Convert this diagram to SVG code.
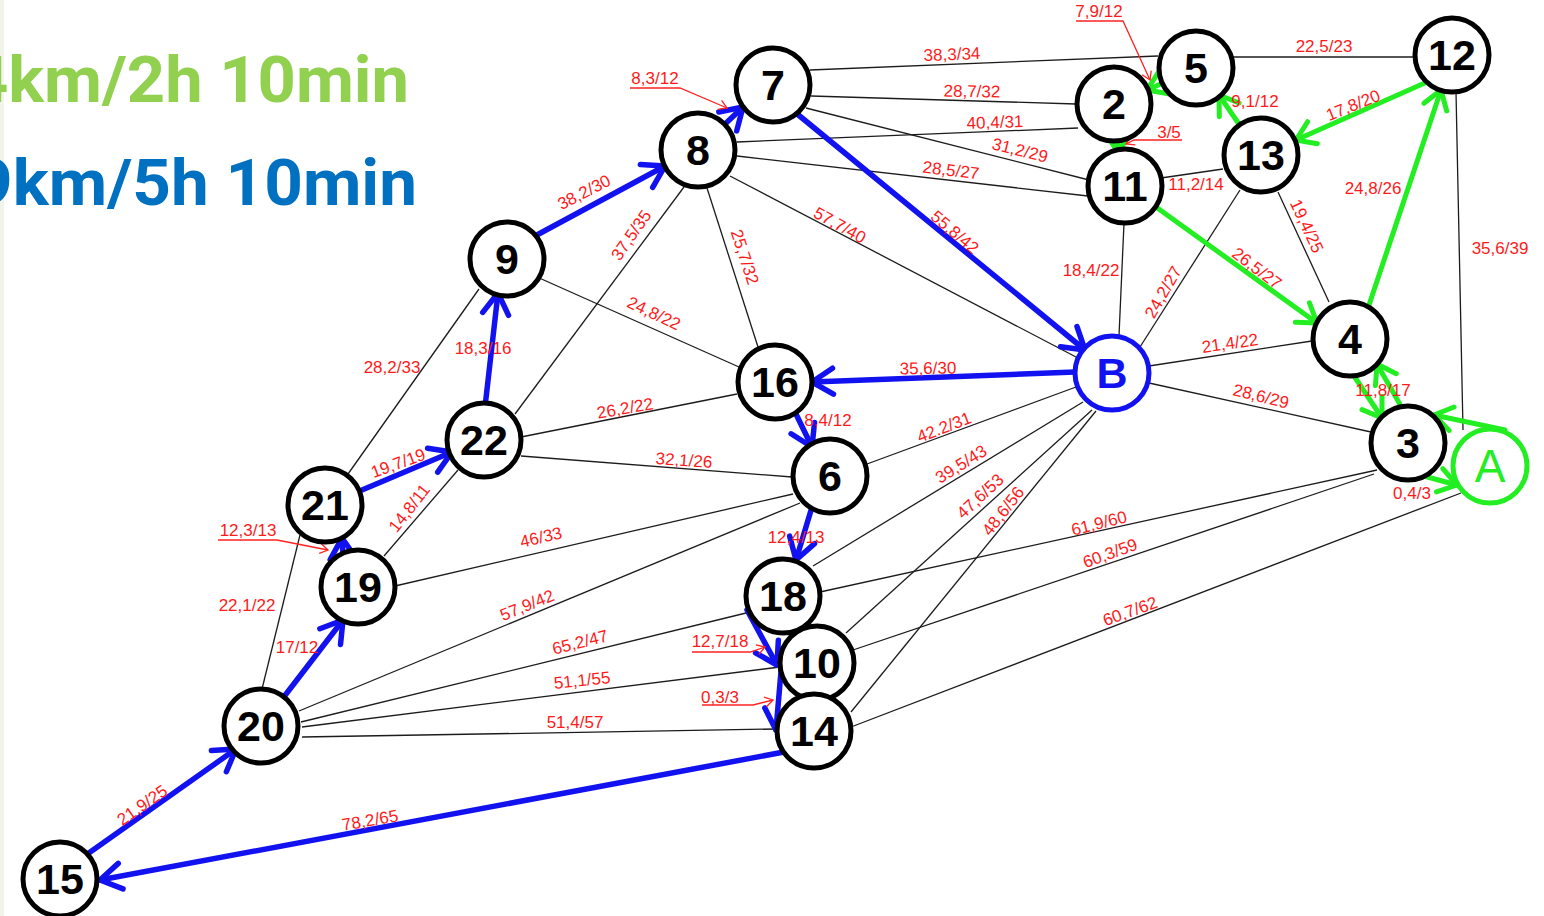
<svg xmlns="http://www.w3.org/2000/svg" width="1544" height="916" viewBox="0 0 1544 916">
<style>
.ttl{font-family:Roboto,"Liberation Sans",sans-serif;font-weight:700;font-size:64px}
.e{stroke:#1c1c1c;stroke-width:1.3;fill:none}
.bl{stroke:#1212f0;stroke-width:5.5;fill:none;stroke-linecap:round;marker-end:url(#ab)}
.gr{stroke:#22ee22;stroke-width:5;fill:none;stroke-linecap:round;marker-end:url(#ag)}
.ld{stroke:#ff2222;stroke-width:1.3;fill:none;marker-end:url(#ar)}
.lb{font-family:"Liberation Sans",Arial,sans-serif;font-size:17px;fill:#ff1a1a;text-anchor:middle}
.nc{fill:#fff;stroke:#000;stroke-width:5}
.nt{font-family:"Liberation Sans",Arial,sans-serif;font-weight:700;font-size:43px;text-anchor:middle;fill:#000}
</style>
<defs>
<marker id="ab" markerUnits="userSpaceOnUse" markerWidth="40" markerHeight="40" viewBox="-30 -20 40 40" refX="0" refY="0" orient="auto" overflow="visible">
<path d="M-21,-13 L0,0 L-21,13" fill="none" stroke="#1212f0" stroke-width="5.5" stroke-linecap="round" stroke-linejoin="round"/>
</marker>
<marker id="ag" markerUnits="userSpaceOnUse" markerWidth="40" markerHeight="40" viewBox="-30 -20 40 40" refX="0" refY="0" orient="auto" overflow="visible">
<path d="M-18,-12 L0,0 L-18,12" fill="none" stroke="#22ee22" stroke-width="5" stroke-linecap="round" stroke-linejoin="round"/>
</marker>
<marker id="ar" markerUnits="userSpaceOnUse" markerWidth="20" markerHeight="20" viewBox="-10 -10 20 20" refX="0" refY="0" orient="auto" overflow="visible">
<path d="M-8,-5 L0,0 L-8,5" fill="none" stroke="#ff2222" stroke-width="1.3"/>
</marker>
</defs>
<rect x="0" y="0" width="1544" height="916" fill="#fff"/>
<rect x="0" y="0" width="4" height="916" fill="#f2f4ec"/>
<text class="ttl" x="-30" y="102" fill="#92d050" textLength="439" lengthAdjust="spacingAndGlyphs">4km/2h 10min</text>
<text class="ttl" x="-26" y="205" fill="#0070c0" textLength="443" lengthAdjust="spacingAndGlyphs">9km/5h 10min</text>

<g id="connectors">
<path class="e" d="M810,70 L1158,56"/>
<path class="e" d="M811,96 L1076,104"/>
<path class="e" d="M737,142 L1078,128"/>
<path class="e" d="M806,108 L1089,180"/>
<path class="e" d="M737,156 L1088,196"/>
<path class="e" d="M1233,57 L1415,57"/>
<path class="e" d="M1161,178 L1223,169"/>
<path class="e" d="M1278,192 L1329,302"/>
<path class="e" d="M1456,92 L1463,430"/>
<path class="e" d="M1124,223 L1119,336"/>
<path class="e" d="M1240,190 L1140,347"/>
<path class="e" d="M1149,366 L1312,341"/>
<path class="e" d="M1149,383 L1371,432"/>
<path class="e" d="M820,592 L1377,470"/>
<path class="e" d="M853,650 L1374,474"/>
<path class="e" d="M851,727 L1461,493"/>
<path class="e" d="M684,187 L515,414"/>
<path class="e" d="M707,188 L758,347"/>
<path class="e" d="M730,176 L1076,357"/>
<path class="e" d="M537,277 L739,367"/>
<path class="e" d="M479,289 L348,474"/>
<path class="e" d="M521,437 L737,394"/>
<path class="e" d="M521,456 L792,477"/>
<path class="e" d="M867,464 L1076,387"/>
<path class="e" d="M813,566 L1083,402"/>
<path class="e" d="M846,633 L1092,410"/>
<path class="e" d="M851,712 L1096,411"/>
<path class="e" d="M300,535 L262,689"/>
<path class="e" d="M384,556 L458,470"/>
<path class="e" d="M395,586 L793,494"/>
<path class="e" d="M299,711 L800,503"/>
<path class="e" d="M301,722 L746,613"/>
<path class="e" d="M302,727 L780,667"/>
<path class="e" d="M302,737 L777,729"/>

<path class="bl" d="M535,236 L665,166"/>
<path class="bl" d="M724,125 L743,107"/>
<path class="bl" d="M796,113 L1085,350"/>
<path class="bl" d="M1075,372 L812,382"/>
<path class="bl" d="M795,412 L812,447"/>
<path class="bl" d="M812,507 L796,560"/>
<path class="bl" d="M747,610 L777,665"/>
<path class="bl" d="M783,648 L776,730"/>
<path class="bl" d="M784,752 L100,880" stroke-width="6.5"/>
<path class="bl" d="M86,855 L236,749"/>
<path class="bl" d="M283,698 L343,620"/>
<path class="bl" d="M343,556 L342,538"/>
<path class="bl" d="M362,490 L452,452"/>
<path class="bl" d="M485,407 L498,293"/>

<path class="gr" d="M1163,83 L1147,90"/>
<path class="gr" d="M1118,137 L1118,152"/>
<path class="gr" d="M1241,127 L1219,95"/>
<path class="gr" d="M1427,82 L1296,140"/>
<path class="gr" d="M1368,308 L1441,90"/>
<path class="gr" d="M1156,207 L1317,323"/>
<path class="gr" d="M1352,373 L1382,418"/>
<path class="gr" d="M1402,408 L1377,364"/>
<path class="gr" d="M1505,430 L1434,415"/>
<path class="gr" d="M1420,475 L1457,485"/>

<path class="ld" d="M630,88 L680,88 L727,108"/>
<path class="ld" d="M1076,21 L1123,21 L1150,80"/>
<path class="ld" d="M1182,140 L1134,140 L1126,144"/>
<path class="ld" d="M218,540 L277,540 L328,550"/>
<path class="ld" d="M692,652 L750,652 L765,647"/>
<path class="ld" d="M702,705 L753,705 L773,700"/>
</g>

<g id="labels">
<text class="lb" x="952" y="60" transform="rotate(-2 952 54)">38,3/34</text>
<text class="lb" x="972" y="97" transform="rotate(1 972 91)">28,7/32</text>
<text class="lb" x="995" y="128" transform="rotate(-2 995 122)">40,4/31</text>
<text class="lb" x="1020" y="156" transform="rotate(14 1020 150)">31,2/29</text>
<text class="lb" x="951" y="176" transform="rotate(7 951 170)">28,5/27</text>
<text class="lb" x="1324" y="52">22,5/23</text>
<text class="lb" x="1099" y="17">7,9/12</text>
<text class="lb" x="1169" y="138">3/5</text>
<text class="lb" x="1255" y="107">9,1/12</text>
<text class="lb" x="1353" y="111" transform="rotate(-22 1353 105)">17,8/20</text>
<text class="lb" x="1373" y="194">24,8/26</text>
<text class="lb" x="1196" y="190">11,2/14</text>
<text class="lb" x="1307" y="232" transform="rotate(65 1307 226)">19,4/25</text>
<text class="lb" x="1500" y="254">35,6/39</text>
<text class="lb" x="1257" y="274" transform="rotate(37 1257 268)">26,5/27</text>
<text class="lb" x="1091" y="276">18,4/22</text>
<text class="lb" x="1163" y="298" transform="rotate(-60 1163 292)">24,2/27</text>
<text class="lb" x="1230" y="349" transform="rotate(-8 1230 343)">21,4/22</text>
<text class="lb" x="1261" y="402" transform="rotate(14 1261 396)">28,6/29</text>
<text class="lb" x="1383" y="396">11,8/17</text>
<text class="lb" x="1412" y="499">0,4/3</text>
<text class="lb" x="655" y="84">8,3/12</text>
<text class="lb" x="584" y="198" transform="rotate(-27 584 192)">38,2/30</text>
<text class="lb" x="955" y="238" transform="rotate(40 955 232)">55,8/42</text>
<text class="lb" x="631" y="241" transform="rotate(-55 631 235)">37,5/35</text>
<text class="lb" x="745" y="263" transform="rotate(72 745 257)">25,7/32</text>
<text class="lb" x="840" y="231" transform="rotate(29 840 225)">57,7/40</text>
<text class="lb" x="654" y="319" transform="rotate(25 654 313)">24,8/22</text>
<text class="lb" x="392" y="373">28,2/33</text>
<text class="lb" x="483" y="354">18,3/16</text>
<text class="lb" x="625" y="414" transform="rotate(-10 625 408)">26,2/22</text>
<text class="lb" x="684" y="466" transform="rotate(4 684 460)">32,1/26</text>
<text class="lb" x="928" y="374" transform="rotate(-1 928 368)">35,6/30</text>
<text class="lb" x="828" y="426">8,4/12</text>
<text class="lb" x="944" y="433" transform="rotate(-21 944 427)">42.2/31</text>
<text class="lb" x="961" y="470" transform="rotate(-32 961 464)">39,5/43</text>
<text class="lb" x="980" y="502" transform="rotate(-43 980 496)">47,6/53</text>
<text class="lb" x="1003" y="517" transform="rotate(-52 1003 511)">48,6/56</text>
<text class="lb" x="398" y="469" transform="rotate(-20 398 463)">19,7/19</text>
<text class="lb" x="409" y="514" transform="rotate(-52 409 508)">14,8/11</text>
<text class="lb" x="248" y="536">12,3/13</text>
<text class="lb" x="247" y="611">22,1/22</text>
<text class="lb" x="297" y="653">17/12</text>
<text class="lb" x="541" y="543" transform="rotate(-13 541 537)">46/33</text>
<text class="lb" x="527" y="611" transform="rotate(-22 527 605)">57,9/42</text>
<text class="lb" x="580" y="648" transform="rotate(-14 580 642)">65,2/47</text>
<text class="lb" x="582" y="686" transform="rotate(-6 582 680)">51,1/55</text>
<text class="lb" x="575" y="728">51,4/57</text>
<text class="lb" x="796" y="543">12,4/13</text>
<text class="lb" x="720" y="647">12,7/18</text>
<text class="lb" x="720" y="703">0,3/3</text>
<text class="lb" x="1099" y="529" transform="rotate(-14 1099 523)">61,9/60</text>
<text class="lb" x="1110" y="559" transform="rotate(-20 1110 553)">60,3/59</text>
<text class="lb" x="1130" y="617" transform="rotate(-20 1130 611)">60,7/62</text>
<text class="lb" x="142" y="811" transform="rotate(-35 142 805)">21,9/25</text>
<text class="lb" x="370" y="826" transform="rotate(-10 370 820)">78,2/65</text>
</g>

<g id="n7"><circle class="nc" cx="773" cy="85" r="37"/><text class="nt" x="773" y="100">7</text></g>
<g id="n8"><circle class="nc" cx="698" cy="150" r="37"/><text class="nt" x="698" y="165">8</text></g>
<g id="n5"><circle class="nc" cx="1196" cy="68" r="37"/><text class="nt" x="1196" y="83">5</text></g>
<g id="n2"><circle class="nc" cx="1114" cy="104" r="37"/><text class="nt" x="1114" y="119">2</text></g>
<g id="n12"><circle class="nc" cx="1452" cy="55" r="37"/><text class="nt" x="1452" y="70">12</text></g>
<g id="n13"><circle class="nc" cx="1261" cy="155" r="37"/><text class="nt" x="1261" y="170">13</text></g>
<g id="n11"><circle class="nc" cx="1125" cy="186" r="37"/><text class="nt" x="1125" y="201">11</text></g>
<g id="n9"><circle class="nc" cx="507" cy="259" r="37"/><text class="nt" x="507" y="274">9</text></g>
<g id="n4"><circle class="nc" cx="1350" cy="339" r="37"/><text class="nt" x="1350" y="354">4</text></g>
<g id="nB"><circle class="nc" cx="1112" cy="373" r="37" style="stroke:#1212f0"/><text class="nt" x="1112" y="388" style="fill:#1212f0">B</text></g>
<g id="n16"><circle class="nc" cx="775" cy="382" r="37"/><text class="nt" x="775" y="397">16</text></g>
<g id="n22"><circle class="nc" cx="484" cy="440" r="37"/><text class="nt" x="484" y="455">22</text></g>
<g id="n3"><circle class="nc" cx="1408" cy="443" r="37"/><text class="nt" x="1408" y="458">3</text></g>
<g id="nA"><circle class="nc" cx="1490" cy="466" r="37" style="stroke:#22ee22"/><text class="nt" x="1490" y="482" style="fill:#22ee22;font-weight:400;font-size:46px">A</text></g>
<g id="n6"><circle class="nc" cx="830" cy="476" r="37"/><text class="nt" x="830" y="491">6</text></g>
<g id="n21"><circle class="nc" cx="325" cy="505" r="37"/><text class="nt" x="325" y="520">21</text></g>
<g id="n19"><circle class="nc" cx="358" cy="587" r="37"/><text class="nt" x="358" y="602">19</text></g>
<g id="n18"><circle class="nc" cx="783" cy="596" r="37"/><text class="nt" x="783" y="611">18</text></g>
<g id="n10"><circle class="nc" cx="817" cy="663" r="37"/><text class="nt" x="817" y="678">10</text></g>
<g id="n20"><circle class="nc" cx="261" cy="726" r="37"/><text class="nt" x="261" y="741">20</text></g>
<g id="n14"><circle class="nc" cx="814" cy="731" r="37"/><text class="nt" x="814" y="746">14</text></g>
<g id="n15"><circle class="nc" cx="60" cy="879" r="37"/><text class="nt" x="60" y="894">15</text></g>
</svg>
